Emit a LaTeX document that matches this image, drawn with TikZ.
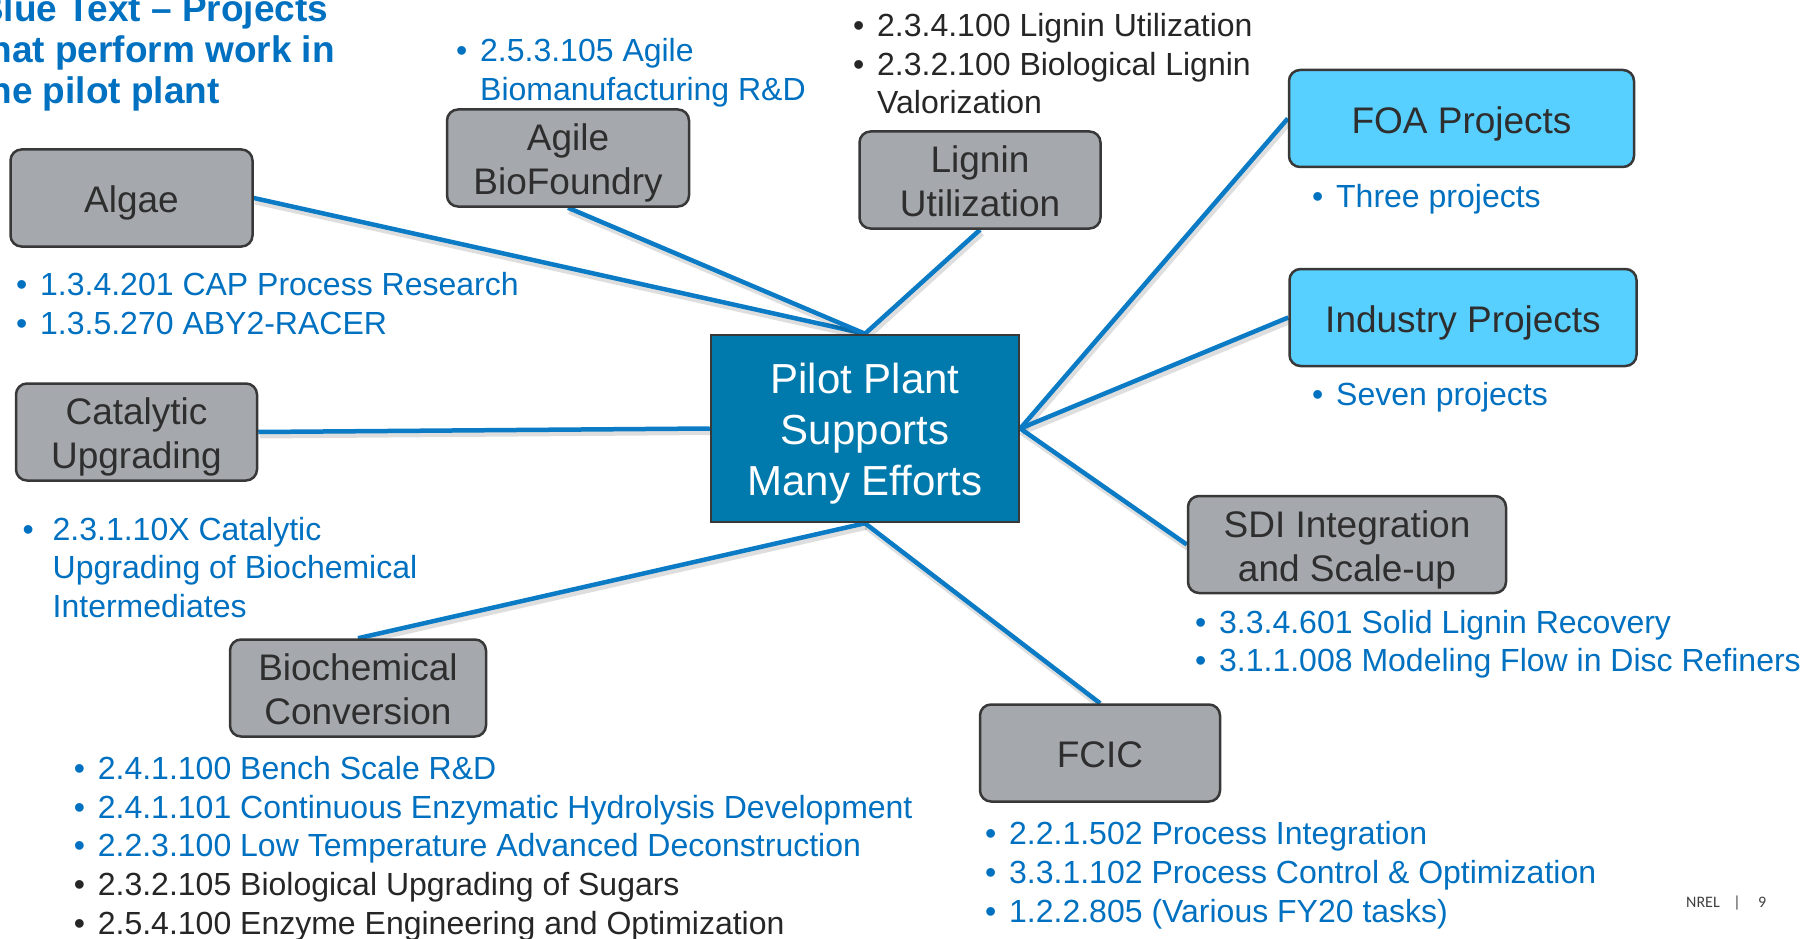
\documentclass[tikz,border=0pt]{standalone}
\usepackage{fontspec}
\setmainfont{Liberation Sans}
\newfontfamily\footfont{Carlito}

\definecolor{linkblue}{HTML}{0A7BC4}
\definecolor{textblue}{HTML}{0070C0}
\definecolor{hubfill}{HTML}{0079AC}
\definecolor{boxgray}{HTML}{A5A9AE}
\definecolor{boxcyan}{HTML}{57CFFF}
\definecolor{edgegray}{HTML}{383838}
\definecolor{labelgray}{HTML}{2E2E2E}
\definecolor{darktext}{HTML}{262626}
\definecolor{footgray}{HTML}{404040}

\pgfdeclarelayer{bg}
\pgfsetlayers{bg,main}

% font sizes (1pt = 1 unit of the drawing)
\newcommand\labelfont{\fontsize{37}{44}\selectfont}
\newcommand\hubfont{\fontsize{42}{51}\selectfont}
\newcommand\listfont{\fontsize{32}{38.7}\selectfont}
\newcommand\titlefont{\fontsize{37}{40}\selectfont\bfseries}
% line strut: full baselineskip, split like the font's ascent/descent
\newcommand\bs{\rule[-0.19\baselineskip]{0pt}{\baselineskip}}
% box label lines: the strut alone sets the line's size
\newcommand\ls[1]{\rule[-0.16\baselineskip]{0pt}{\baselineskip}\smash{#1}}
\newcommand\hs[1]{\rule[-0.18\baselineskip]{0pt}{\baselineskip}\smash{#1}}
% bulleted line and indented continuation line
\newcommand\itm[2][24pt]{\bs\makebox[#1][l]{\textbullet}#2}
\newcommand\cnt[2][24pt]{\bs\hspace*{#1}#2}

\tikzset{
  gbox/.style={draw=edgegray, line width=2.5pt, rounded corners=11pt,
    fill=boxgray, text=labelgray, font=\labelfont, align=center,
    inner sep=0pt, minimum height=97pt},
  cbox/.style={gbox, fill=boxcyan},
  hub/.style={draw=edgegray, line width=2.5pt, fill=hubfill, text=white,
    font=\hubfont, align=center, inner sep=0pt,
    minimum width=308pt, minimum height=187pt},
  link/.style={draw=linkblue, line width=4.5pt},
  linkshadow/.style={draw=black, opacity=.13, line width=7pt,
    transform canvas={xshift=1.5pt, yshift=-3pt}},
  itemlist/.style={anchor=north west, inner sep=0pt, align=left,
    font=\listfont, text=textblue},
}

\begin{document}
\begin{tikzpicture}[x=1pt, y=-1pt]
\useasboundingbox (0,0) rectangle (1802,939);
\clip (0,0) rectangle (1802,939);

% hub and topic boxes
\node[hub] (pilot) at (865,428.5) {\hs{Pilot Plant}\\\hs{Supports}\\\hs{Many Efforts}};
\node[gbox, minimum width=242pt] (algae) at (131.5,198) {\ls{Algae}};
\node[gbox, minimum width=242pt] (agile) at (568,158) {\ls{Agile}\\\ls{BioFoundry}};
\node[gbox, minimum width=241pt] (lignin) at (980,180) {\ls{Lignin}\\\ls{Utilization}};
\node[cbox, minimum width=345pt] (foa) at (1461.5,118.5) {\ls{FOA Projects}};
\node[cbox, minimum width=347pt] (industry) at (1463,317.5) {\ls{Industry Projects}};
\node[gbox, minimum width=241pt] (catalytic) at (136.5,432) {\ls{Catalytic}\\\ls{Upgrading}};
\node[gbox, minimum width=256pt] (biochem) at (358,688) {\ls{Biochemical}\\\ls{Conversion}};
\node[gbox, minimum width=318pt] (sdi) at (1347,544.5) {\ls{SDI Integration}\\\ls{and Scale-up}};
\node[gbox, minimum width=240pt] (fcic) at (1100,753) {\ls{FCIC}};

% connectors from the hub to every topic
\begin{pgfonlayer}{bg}
\foreach \a/\b in {algae.east/pilot.north, agile.south/pilot.north,
    lignin.south/pilot.north, foa.west/pilot.east, industry.west/pilot.east,
    pilot.east/sdi.west, pilot.south/fcic.north, pilot.south/biochem.north,
    catalytic.east/pilot.west} {
  \draw[linkshadow] (\a) -- (\b);
  \draw[link] (\a) -- (\b);
}
\end{pgfonlayer}

% heading
\node[anchor=north west, inner sep=0pt, align=left, font=\titlefont,
  text=textblue] (heading) at (-23,-11)
  {\bs Blue Text – Projects\\\bs that perform work in\\\bs the pilot plant};

% project lists
\node[itemlist] (agilelist) at (456,30.15)
  {\itm{2.5.3.105 Agile}\\\cnt{Biomanufacturing R\&D}};
\node[itemlist, text=darktext] (ligninlist) at (853,5)
  {\itm{2.3.4.100 Lignin Utilization}\\\itm{2.3.2.100 Biological Lignin}\\\cnt{Valorization}};
\node[itemlist] (algaelist) at (16,264)
  {\itm{1.3.4.201 CAP Process Research}\\\itm{1.3.5.270 ABY2-RACER}};
\node[itemlist] (catlist) at (22.5,508.5)
  {\itm[30pt]{2.3.1.10X Catalytic}\\\cnt[30pt]{Upgrading of Biochemical}\\\cnt[30pt]{Intermediates}};
\node[itemlist] (foalist) at (1312,176) {\itm{Three projects}};
\node[itemlist] (industrylist) at (1312,374) {\itm{Seven projects}};
\node[itemlist] (sdilist) at (1195,601.5)
  {\itm{3.3.4.601 Solid Lignin Recovery}\\\itm{3.1.1.008 Modeling Flow in Disc Refiners}};
\node[itemlist] (biolist) at (73.7,747.8)
  {\itm{2.4.1.100 Bench Scale R\&D}\\
   \itm{2.4.1.101 Continuous Enzymatic Hydrolysis Development}\\
   \itm{2.2.3.100 Low Temperature Advanced Deconstruction}\\
   \textcolor{darktext}{\itm{2.3.2.105 Biological Upgrading of Sugars}}\\
   \textcolor{darktext}{\itm{2.5.4.100 Enzyme Engineering and Optimization}}};
\node[itemlist] (fciclist) at (985,813.2)
  {\itm{2.2.1.502 Process Integration}\\\itm{3.3.1.102 Process Control \& Optimization}\\\itm{1.2.2.805 (Various FY20 tasks)}};

% footer
\node[anchor=base west, inner sep=0pt, font=\footfont\fontsize{16}{19}\selectfont,
  text=footgray] (footname) at (1686,907.3) {NREL};
\node[anchor=base, inner sep=0pt, font=\footfont\fontsize{16}{19}\selectfont,
  text=footgray] (footbar) at (1737,907.3) {|};
\node[anchor=base west, inner sep=0pt, font=\footfont\fontsize{16}{19}\selectfont,
  text=footgray] (footpage) at (1758,907.3) {9};
\end{tikzpicture}
\end{document}
